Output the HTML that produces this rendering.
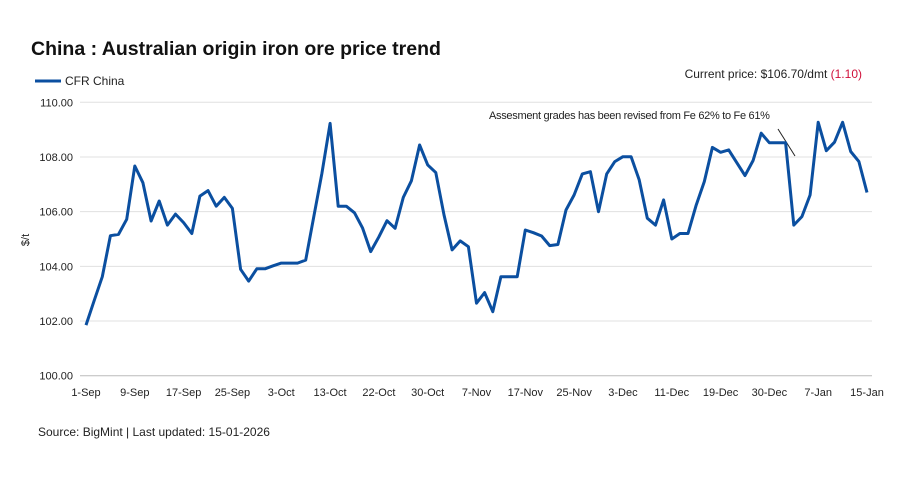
<!DOCTYPE html>
<html><head><meta charset="utf-8"><style>
body{margin:0;background:#fff;font-family:"Liberation Sans",sans-serif;}
svg text{font-family:"Liberation Sans",sans-serif;}
</style></head><body>
<svg id="chart" width="906" height="472">
<text x="31" y="55" font-size="19.5" font-weight="bold" fill="#111">China : Australian origin iron ore price trend</text>
<g><line x1="35" y1="81" x2="61" y2="81" stroke="#0b4fa0" stroke-width="3"/><text x="65" y="85" font-size="12" fill="#222">CFR China</text></g>
<text x="862" y="78" font-size="12" text-anchor="end" fill="#222">Current price: $106.70/dmt <tspan fill="#d0103a">(1.10)</tspan></text>
<text x="489" y="119" font-size="11" fill="#222" letter-spacing="-0.3">Assesment grades has been revised from Fe 62% to Fe 61%</text>
<line x1="778" y1="129" x2="795" y2="156" stroke="#222" stroke-width="1"/>
<text transform="translate(29,240) rotate(-90)" font-size="11" text-anchor="middle" fill="#222">$/t</text>
<g id="grid"></g><g id="xl"></g><path id="line" fill="none" stroke="#0b4fa0" stroke-width="3" stroke-linejoin="round"/>
<text x="38" y="436" font-size="12" fill="#222">Source: BigMint | Last updated: 15-01-2026</text>
</svg>
<script>
const values=[101.85,102.74,103.62,105.12,105.17,105.72,107.67,107.06,105.66,106.39,105.51,105.91,105.6,105.2,106.57,106.77,106.2,106.52,106.12,103.89,103.46,103.91,103.91,104.02,104.12,104.12,104.12,104.23,105.82,107.4,109.23,106.2,106.2,105.96,105.4,104.54,105.08,105.67,105.39,106.52,107.13,108.44,107.71,107.43,105.88,104.6,104.93,104.72,102.65,103.04,102.34,103.62,103.62,103.62,105.33,105.23,105.11,104.76,104.8,106.06,106.61,107.38,107.46,106.0,107.38,107.83,108.01,108.01,107.16,105.76,105.51,106.43,105.0,105.2,105.2,106.24,107.1,108.35,108.17,108.26,107.79,107.32,107.87,108.87,108.52,108.52,108.52,105.51,105.82,106.61,109.27,108.23,108.54,109.27,108.2,107.83,106.7];
const xLabels=["1-Sep","9-Sep","17-Sep","25-Sep","3-Oct","13-Oct","22-Oct","30-Oct","7-Nov","17-Nov","25-Nov","3-Dec","11-Dec","19-Dec","30-Dec","7-Jan","15-Jan"];
const yTicks=[100,102,104,106,108,110];
const NS="http://www.w3.org/2000/svg";
const x0=86,x1=867,yMin=100,yMax=110,py0=375.7,py1=102.3;
const xs=i=>x0+(x1-x0)*i/(values.length-1);
const ys=v=>py0+(py1-py0)*(v-yMin)/(yMax-yMin);
const grid=document.getElementById('grid');
yTicks.forEach(t=>{
 const l=document.createElementNS(NS,'line');
 l.setAttribute('x1',80);l.setAttribute('x2',872);l.setAttribute('y1',ys(t));l.setAttribute('y2',ys(t));
 l.setAttribute('stroke',t===100?'#bbb':'#e0e0e0');l.setAttribute('stroke-width',1);
 
 
 grid.appendChild(l);
 const tx=document.createElementNS(NS,'text');
 tx.setAttribute('x',73);tx.setAttribute('y',ys(t)+4);tx.setAttribute('text-anchor','end');tx.setAttribute('font-size',11);tx.setAttribute('fill','#222');
 tx.textContent=t.toFixed(2);
 
 
 grid.appendChild(tx);
});
const xl=document.getElementById('xl');
xLabels.forEach((s,k)=>{
 const tx=document.createElementNS(NS,'text');
 tx.setAttribute('x',xs(k*6));tx.setAttribute('y',396);tx.setAttribute('text-anchor','middle');tx.setAttribute('font-size',11);tx.setAttribute('fill','#222');
 tx.textContent=s;
 
 
 xl.appendChild(tx);
});
document.getElementById('line').setAttribute('d',values.map((v,i)=>(i?'L':'M')+xs(i).toFixed(1)+','+ys(v).toFixed(1)).join(''));
</script>
</body></html>
